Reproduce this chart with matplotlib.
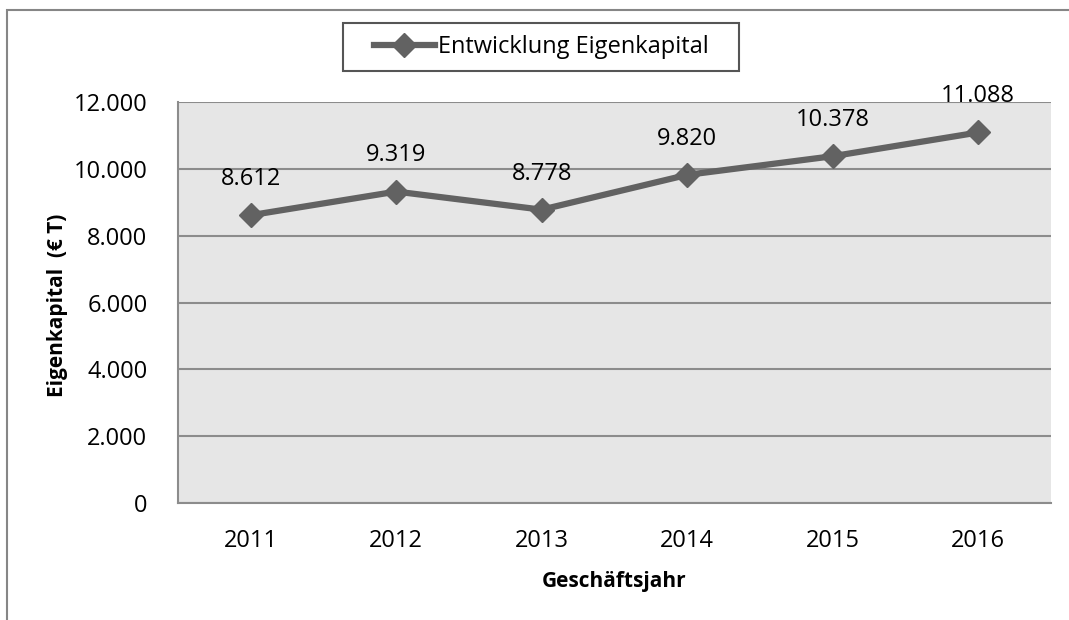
import numpy as np
import matplotlib.pyplot as plt
from matplotlib.patches import Rectangle

years = ['2011', '2012', '2013', '2014', '2015', '2016']
eigenkapital = [8612, 9319, 8778, 9820, 10378, 11088]
yticks = [0, 2000, 4000, 6000, 8000, 10000, 12000]

def de_fmt(v):
    return f'{v:,.0f}'.replace(',', '.')

plt.rcParams['font.family'] = ['Open Sans', 'DejaVu Sans']

W, H = 1069, 620
fig = plt.figure(figsize=(W / 100, H / 100), dpi=100)
# outer chart frame (only left/top visible in reference)
fig.patches.append(Rectangle((7 / W, -0.1), 1.2, (H - 10) / H + 0.1, transform=fig.transFigure,
                             fill=False, edgecolor='#868686', lw=1.5))
# legend frame
fig.patches.append(Rectangle((343 / W, 1 - 71 / H), (739 - 343) / W, 48 / H, transform=fig.transFigure,
                             fill=False, edgecolor='#555555', lw=1.5))

ax = fig.add_axes([178 / W, 1 - 503 / H, (1051 - 178) / W, (503 - 102) / H])
ax.set_facecolor('#e6e6e6')
x = np.arange(len(years))
line, = ax.plot(x, eigenkapital, color='#626262', lw=4.5, marker='D', ms=12,
                label='Entwicklung Eigenkapital', zorder=3)
for xi, v in zip(x, eigenkapital):
    ax.annotate(de_fmt(v), (xi, v), xytext=(0, 26), textcoords='offset points',
                ha='center', va='center', fontsize=17, color='black')

ax.set_xlim(-0.5, 5.5)
ax.set_ylim(0, 12000)
ax.set_yticks(yticks)
ax.set_yticklabels([de_fmt(v) for v in yticks], fontsize=17)
ax.set_xticks(x)
ax.set_xticklabels(years, fontsize=17)
ax.tick_params(length=0, pad=22)
ax.tick_params(axis='x', pad=19)
ax.grid(axis='y', color='#8c8c8c', lw=1.5)
ax.set_axisbelow(True)
for s in ['top', 'right']:
    ax.spines[s].set_visible(False)
for s in ['left', 'bottom']:
    ax.spines[s].set_color('#8c8c8c')
    ax.spines[s].set_linewidth(1.5)

ax.set_xlabel('Geschäftsjahr', fontsize=15, fontweight='bold', labelpad=13)
fig.text(58 / W, 1 - 305 / H, 'Eigenkapital  (€ T)', rotation=90, fontsize=15,
         fontweight='bold', ha='center', va='center')

leg = fig.legend(handles=[line], loc='center', bbox_to_anchor=(541 / W, 1 - 47 / H),
                 fontsize=17, frameon=False, handlelength=2.6,
                 handletextpad=0.1)

fig.savefig('out.png', dpi=100)
